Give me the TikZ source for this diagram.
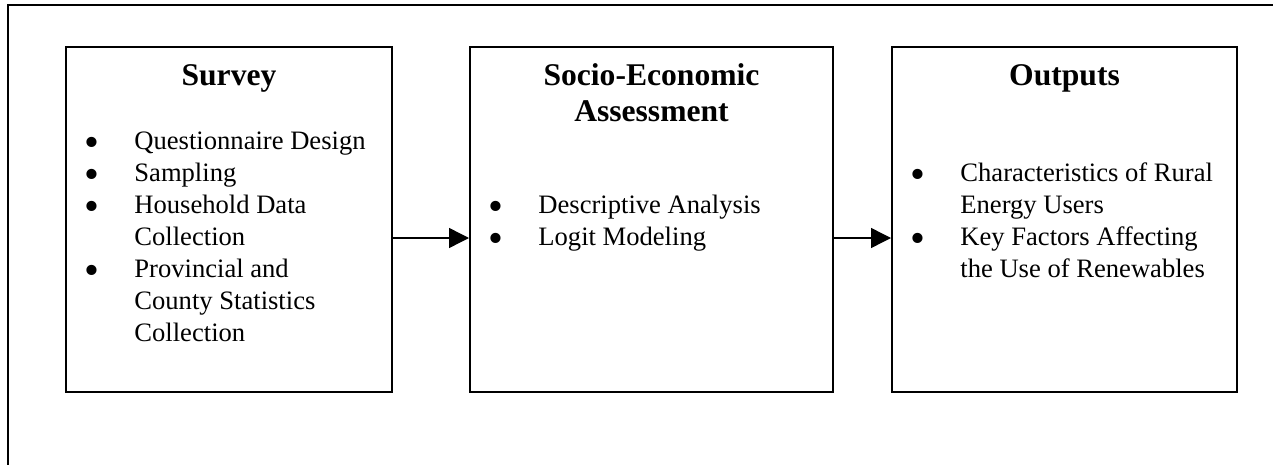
\documentclass[tikz,border=0pt]{standalone}
\usepackage{fontspec}
\usepackage{graphicx}
\setmainfont{Liberation Serif}
\usetikzlibrary{arrows.meta}
\newcommand{\bodyfnt}{\fontsize{13.3}{16}\selectfont}
\newcommand{\headfnt}{\fontsize{15.8}{17.5}\selectfont\bfseries}
\newcommand{\bigbul}{\smash{\raisebox{-3.3pt}{\scalebox{1.6}{\textbullet}}}}
\begin{document}
\begin{tikzpicture}[x=0.5pt,y=-0.5pt,
  box/.style={draw, line width=1pt, inner sep=0pt, minimum height=172.5pt},
  head/.style={font=\headfnt, inner sep=0pt, anchor=base},
  itemlist/.style={font=\bodyfnt, inner sep=0pt, anchor=base west},
  arr/.style={line width=0.7pt, -{Triangle[length=10pt,width=10pt]}}]
\useasboundingbox (0,0) rectangle (1273,465);
% cropped outer frame
\draw[line width=1pt] (8,466) -- (8,5) -- (1274,5);
% boxes
\node[box, minimum width=163pt] (b1) at (229,219.5) {};
\node[box, minimum width=181.5pt] (b2) at (651.5,219.5) {};
\node[box, minimum width=172.5pt] (b3) at (1064.5,219.5) {};
% titles
\node[head] (t1) at (229,86) {Survey};
\node[head] (t2) at (651.5,86) {\begin{tabular}[t]{@{}c@{}}Socio-Economic\\Assessment\end{tabular}};
\node[head] (t3) at (1064.5,86) {Outputs};
% lists
\node[itemlist] (l1) at (84.5,149.5) {\begin{tabular}[t]{@{}p{24.75pt}@{}l@{}}
\bigbul & Questionnaire Design\\
\bigbul & Sampling\\
\bigbul & Household Data\\
 & Collection\\
\bigbul & Provincial and\\
 & County Statistics\\
 & Collection
\end{tabular}};
\node[itemlist] (l2) at (488.5,213.5) {\begin{tabular}[t]{@{}p{24.75pt}@{}l@{}}
\bigbul & Descriptive Analysis\\
\bigbul & Logit Modeling
\end{tabular}};
\node[itemlist] (l3) at (910.5,181.5) {\begin{tabular}[t]{@{}p{24.75pt}@{}l@{}}
\bigbul & Characteristics of Rural\\
 & Energy Users\\
\bigbul & Key Factors Affecting\\
 & the Use of Renewables
\end{tabular}};
% arrows
\coordinate (ay) at (0,238);
\draw[arr] (b1.east |- ay) -- (b2.west |- ay);
\draw[arr] (b2.east |- ay) -- (b3.west |- ay);
\end{tikzpicture}
\end{document}
